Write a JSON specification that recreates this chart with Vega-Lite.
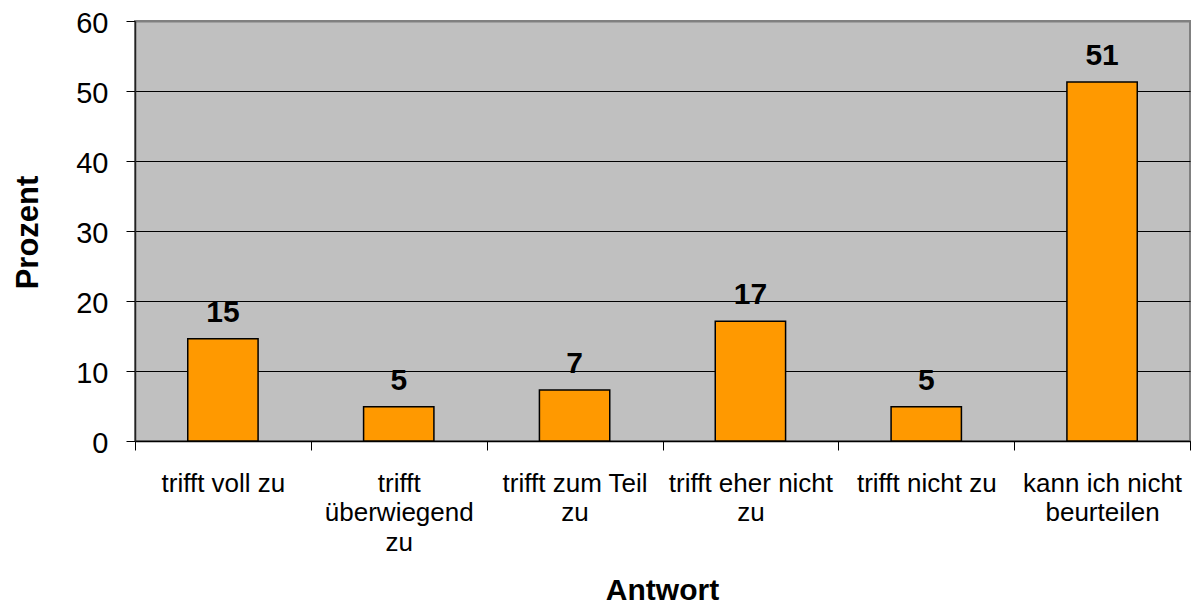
{
  "$schema": "https://vega.github.io/schema/vega-lite/v6.json",
  "width": 1055,
  "height": 420,
  "autosize": {"type": "none"},
  "padding": {"left": 135, "top": 21, "right": 5, "bottom": 165},
  "background": "white",
  "data": {
    "values": [
      {"Antwort": "trifft voll zu", "Prozent": 14.6},
      {"Antwort": "trifft überwiegend zu", "Prozent": 4.9},
      {"Antwort": "trifft zum Teil zu", "Prozent": 7.3},
      {"Antwort": "trifft eher nicht zu", "Prozent": 17.1},
      {"Antwort": "trifft nicht zu", "Prozent": 4.9},
      {"Antwort": "kann ich nicht beurteilen", "Prozent": 51.3}
    ]
  },
  "encoding": {
    "x": {
      "field": "Antwort",
      "type": "nominal",
      "sort": null,
      "scale": {"paddingInner": 0, "paddingOuter": 0},
      "axis": {
        "title": "Antwort",
        "labelAngle": 0,
        "tickBand": "extent",
        "tickSize": 9,
        "tickColor": "black",
        "tickWidth": 1,
        "domainColor": "black",
        "domainWidth": 1.5,
        "grid": false,
        "labelFont": "Liberation Sans",
        "labelFontSize": 26,
        "labelColor": "black",
        "labelPadding": 20,
        "labelBaseline": "top",
        "labelLineHeight": 29.5,
        "labelLimit": 0,
        "labelOverlap": false,
        "labelBound": false,
        "labelExpr": "datum.label == 'trifft überwiegend zu' ? ['trifft', 'überwiegend', 'zu'] : datum.label == 'trifft zum Teil zu' ? ['trifft zum Teil', 'zu'] : datum.label == 'trifft eher nicht zu' ? ['trifft eher nicht', 'zu'] : datum.label == 'kann ich nicht beurteilen' ? ['kann ich nicht', 'beurteilen'] : datum.label",
        "titleFont": "Liberation Sans",
        "titleFontSize": 30,
        "titleFontWeight": "bold",
        "titleColor": "black",
        "titleX": 527,
        "titleY": 158,
        "titleAlign": "center",
        "titleBaseline": "alphabetic"
      }
    },
    "y": {
      "field": "Prozent",
      "type": "quantitative",
      "scale": {"domain": [0, 60], "nice": false},
      "axis": {
        "title": "Prozent",
        "values": [0, 10, 20, 30, 40, 50, 60],
        "grid": true,
        "gridColor": {"condition": {"test": "datum.value === 60", "value": "#808080"}, "value": "black"},
        "gridWidth": {"condition": {"test": "datum.value === 60", "value": 2}, "value": 1},
        "tickSize": 9,
        "tickColor": "black",
        "tickWidth": 1,
        "domainColor": "#222222",
        "domainWidth": 1.5,
        "labelFont": "Liberation Sans",
        "labelFontSize": 29,
        "labelColor": "black",
        "labelPadding": 18,
        "labelBaseline": "middle",
        "labelOffset": 2,
        "titleFont": "Liberation Sans",
        "titleFontSize": 31,
        "titleFontWeight": "bold",
        "titleColor": "black",
        "titleAngle": -90,
        "titleX": -98,
        "titleY": 211,
        "titleAlign": "center",
        "titleBaseline": "alphabetic"
      }
    }
  },
  "layer": [
    {
      "mark": {"type": "bar", "width": {"band": 0.4}, "fill": "#FF9900", "stroke": "black", "strokeWidth": 1.5}
    },
    {
      "mark": {"type": "text", "font": "Liberation Sans", "fontWeight": "bold", "fontSize": 30, "dy": -17, "baseline": "alphabetic", "color": "black"},
      "encoding": {"text": {"field": "Prozent", "type": "quantitative", "format": ".0f"}}
    }
  ],
  "config": {"view": {"fill": "#C0C0C0", "stroke": "#808080", "strokeWidth": 2}}
}
